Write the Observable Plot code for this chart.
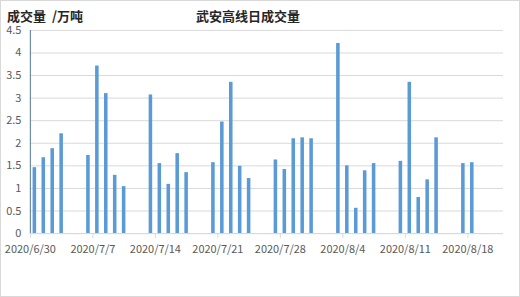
<!DOCTYPE html>
<html><head><meta charset="utf-8">
<script src="https://cdn.jsdelivr.net/npm/d3@7"></script>
<script src="https://cdn.jsdelivr.net/npm/@observablehq/plot@0.6"></script>
<style>
html,body{margin:0;padding:0;background:#fff;}
#wrap{position:relative;width:518px;height:295px;border:1px solid #d9d9d9;font-family:"Noto Sans CJK SC",sans-serif;}
#wrap svg{position:absolute;left:-1px;top:-1px;}
.t{position:absolute;top:8px;font-size:13px;line-height:13px;font-weight:bold;color:#262626;white-space:pre;}
</style></head><body>
<div id="wrap">
<div class="t" style="left:6px">成交量  /万吨</div>
<div class="t" style="left:195px">武安高线日成交量</div>
</div>
<script>
const dates = ["2020-06-30","2020-07-01","2020-07-02","2020-07-03",
"2020-07-06","2020-07-07","2020-07-08","2020-07-09","2020-07-10",
"2020-07-13","2020-07-14","2020-07-15","2020-07-16","2020-07-17",
"2020-07-20","2020-07-21","2020-07-22","2020-07-23","2020-07-24",
"2020-07-27","2020-07-28","2020-07-29","2020-07-30","2020-07-31",
"2020-08-03","2020-08-04","2020-08-05","2020-08-06","2020-08-07",
"2020-08-10","2020-08-11","2020-08-12","2020-08-13","2020-08-14",
"2020-08-17","2020-08-18"];
const volumes = [1.46,1.68,1.88,2.21,
1.73,3.71,3.10,1.29,1.04,
3.07,1.55,1.09,1.77,1.35,
1.57,2.47,3.35,1.49,1.22,
1.63,1.42,2.10,2.12,2.10,
4.21,1.50,0.56,1.39,1.55,
1.60,3.35,0.80,1.19,2.12,
1.55,1.57];
const tickDates = ["2020-06-30","2020-07-07","2020-07-14","2020-07-21","2020-07-28","2020-08-04","2020-08-11","2020-08-18"];
const yTicks = [0,0.5,1,1.5,2,2.5,3,3.5,4,4.5];
const domainStart = "2020-06-30", domainEnd = "2020-08-22";

const DAY = 864e5;
const data = dates.map((d,i)=>({x1:new Date(d), x2:new Date(+new Date(d)+DAY), v:volumes[i]}));
const fmt = d => `${d.getUTCFullYear()}/${d.getUTCMonth()+1}/${d.getUTCDate()}`;
const font = '"Noto Sans CJK SC",sans-serif';
const plot = Plot.plot({
  width:520, height:297,
  marginLeft:30, marginRight:15, marginTop:30, marginBottom:63,
  style:{fontFamily:font, fontSize:"11px", color:"#595959", background:"transparent"},
  x:{type:"utc", domain:[new Date(domainStart), new Date(domainEnd)], label:null},
  y:{domain:[0,4.5], label:null},
  marks:[
    Plot.gridY(yTicks,{stroke:"#d9d9d9", strokeOpacity:1}),
    Plot.rect(data,{x1:"x1", x2:"x2", y1:0, y2:"v", fill:"#5b9bd5", insetLeft:2.7, insetRight:2.7}),
    Plot.ruleY([0],{stroke:"#d9d9d9"}),
    Plot.axisY(yTicks,{tickSize:0, tickPadding:9, tickFormat:d=>String(d), fill:"#595959", fontSize:11, label:null}),
    Plot.axisX(tickDates.map(d=>new Date(d)),{tickSize:5, stroke:"#d9d9d9", tickPadding:7, tickFormat:fmt, textAnchor:"middle", fill:"#595959", fontSize:11, label:null}),
    Plot.ruleX([new Date(domainStart)],{y1:0, y2:4.5, stroke:"#6e8ea6", strokeWidth:1.2})
  ]
});
document.getElementById("wrap").appendChild(plot);
</script>
</body></html>
